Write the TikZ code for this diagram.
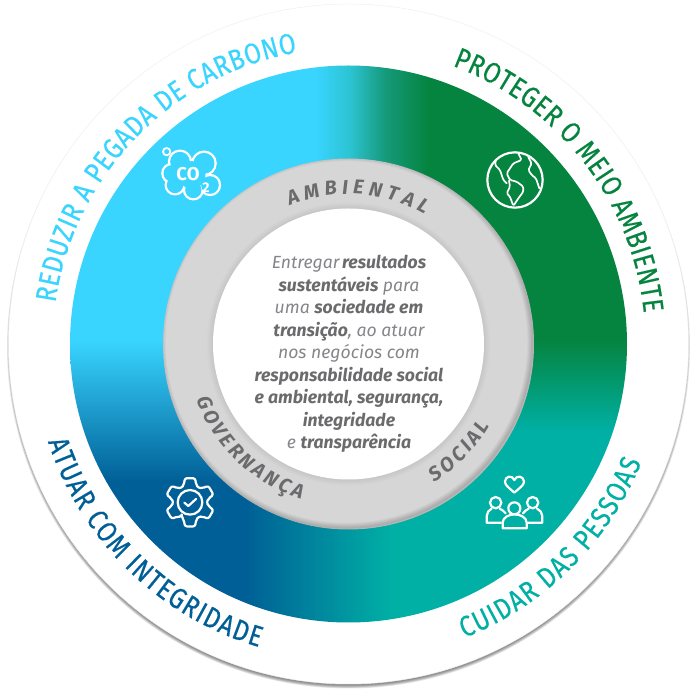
\documentclass[tikz,border=0pt]{standalone}
\usepackage{fontspec}
\usetikzlibrary{decorations.text,calc}
\setmainfont{Fira Sans}
\newfontfamily\ringfont[FakeStretch=0.84,FakeBold=0.4]{Fira Sans}
\newfontfamily\greyfont{Fira Sans}
\definecolor{LB}{HTML}{39D5FF}
\definecolor{GR}{HTML}{05843F}
\definecolor{TE}{HTML}{00B0A5}
\definecolor{DB}{HTML}{005F96}
\definecolor{MI}{HTML}{2CC3D2}
\definecolor{MJ}{HTML}{159A7A}
\definecolor{GT}{HTML}{6B6B6D}
\definecolor{GL}{HTML}{85858A}
\tikzset{
  icon/.style={draw=white,line width=2.2pt,line join=round,line cap=round},
  ringtext/.style={decorate,decoration={text along path,text align={fit to path},text={#1}}},
  flip/.style={shift={(0,697)},y=-1pt},
  zoomed/.style 2 args={shift={(#1,697-#2)},x=0.33333pt,y=-0.33333pt}
}
\newcommand{\ringsize}{\ringfont\fontsize{29}{29}\selectfont}
\newcommand{\greysize}{\greyfont\bfseries\itshape\fontsize{20}{20}\selectfont\color{GT}}
\newcommand{\lighttx}[1]{{\color{GL}#1}}
\newcommand{\boldtx}[1]{{\bfseries\color{GT}#1}}
\begin{document}
\begin{tikzpicture}[x=1pt,y=1pt]
\useasboundingbox (0,0) rectangle (697,697);
\fill[white] (0,0) rectangle (697,697);
\coordinate (c) at (348.5,353);
% outer disk with soft shadow
\foreach \i in {0,...,5}{
  \fill[black,opacity=0.085] ($(c)+(0,-3)$) circle[radius=338.5+\i*0.6];
}
\fill[white] (c) circle[radius=340];
\draw[black!6,line width=0.5pt] (c) circle[radius=340];
% gradient ring
\begin{scope}
\clip (c) circle[radius=278.5];
\begin{scope}[flip]
  % top band
  \fill[LB] (60,50) rectangle (315,341);
  \shade[left color=LB,right color=MI] (315,50) rectangle (350,341);
  \shade[left color=MI,right color=MJ] (350,50) rectangle (385,341);
  \shade[left color=MJ,right color=GR] (385,50) rectangle (428,341);
  \fill[GR] (428,50) rectangle (640,341);
  % sides
  \shade[top color=LB,bottom color=DB] (60,340) rectangle (349,482);
  \shade[top color=GR,bottom color=TE] (348,340) rectangle (640,432);
  % bottom band
  \fill[DB] (60,481) rectangle (245,630);
  \shade[left color=DB,right color=TE] (245,481) rectangle (392,630);
  \shade[left color=DB!42!TE,right color=TE] (348,431) rectangle (392,482);
  \fill[TE] (392,431) rectangle (640,630);
\end{scope}
\end{scope}
% grey ring with inner shadow
\fill[black!16] (c) circle[radius=185.5];
\begin{scope}
\clip (c) circle[radius=185.5];
\foreach \i in {1,...,8}{
  \draw[black,opacity=0.025,line width=\i*1.3pt] ($(c)+(-2,2)$) circle[radius=186];
}
\foreach \i in {1,...,5}{
  \fill[black,opacity=0.012] (c) circle[radius=135.5+\i*1.2];
}
\end{scope}
\fill[white] (c) circle[radius=135.5];
% ring labels
\path[ringtext={|\ringsize\color{LB}|REDUZIR A PEGADA DE CARBONO}] ([shift={(172:296)}]c) arc[start angle=172,end angle=100,radius=296];
\path[ringtext={|\ringsize\color{GR}|PROTEGER O MEIO AMBIENTE}] ([shift={(69.5:297)}]c) arc[start angle=69.5,end angle=6,radius=297];
\path[ringtext={|\ringsize\color{TE}|CUIDAR DAS PESSOAS}] ([shift={(-68.5:316)}]c) arc[start angle=-68.5,end angle=-22,radius=316];
\path[ringtext={|\ringsize\color{DB}|ATUAR COM INTEGRIDADE}] ([shift={(198:316)}]c) arc[start angle=198,end angle=253.5,radius=316];
% grey labels
\path[ringtext={|\greysize|AMBIENTAL}] ([shift={(113:150)}]c) arc[start angle=113,end angle=59.5,radius=150];
\path[ringtext={|\greysize|SOCIAL}] ([shift={(-58:163)}]c) arc[start angle=-58,end angle=-30,radius=163];
\path[ringtext={|\greysize|GOVERNANÇA}] ([shift={(200:162)}]c) arc[start angle=200,end angle=253,radius=162];
% centre text
\node[align=center,font=\itshape\fontsize{17.6}{22.5}\selectfont,inner sep=0pt] (txt) at (349,343) {%
\spaceskip=0.14em
\lighttx{Entregar} \boldtx{resultados}\\
\boldtx{sustentáveis} \lighttx{para}\\
\lighttx{uma} \boldtx{sociedade em}\\
\boldtx{transição}\lighttx{, ao atuar}\\
\lighttx{nos negócios com}\\
\boldtx{responsabilidade social}\\
\boldtx{e ambiental, segurança,}\\
\boldtx{integridade}\\
\lighttx{e} \boldtx{transparência}};
% CO2 icon
\begin{scope}[zoomed={130}{120}]
  \foreach \x/\y/\r in {150/125/33,222/130/35,125/160/28,240/195/30,190/210/28,135/195/28,185/165/45}{
    \fill[white] (\x,\y) circle[radius=\r+3.5];
  }
  \foreach \x/\y/\r in {150/125/33,222/130/35,125/160/28,240/195/30,190/210/28,135/195/28,185/165/45}{
    \fill[LB] (\x,\y) circle[radius=\r-3.5];
  }
  \draw[icon,line width=1.8pt] (110,95) circle[radius=11];
  \node[white,font=\bfseries\fontsize{18.5}{18.5}\selectfont,inner sep=0pt] (co) at (174,163) {CO};
  \node[white,font=\bfseries\fontsize{14}{14}\selectfont,inner sep=0pt] (two) at (228,204) {2};
\end{scope}
% globe icon
\begin{scope}[zoomed={460}{130}]
  \draw[icon] (165,150) circle[radius=83];
  \draw[icon,line width=1.7pt,rounded corners=1.5pt] (175,70)--(185,90)--(160,100)--(150,115)--(140,130)--(150,150)--(170,155)--(190,170)--(190,185)--(175,205)--(160,228)--(150,200)--(140,190)--(150,170)--(147,152);
  \draw[icon,line width=1.7pt,rounded corners=1.5pt] (108,88)--(105,105)--(120,120)--(130,150)--(140,160);
  \draw[icon,line width=1.7pt,rounded corners=1.5pt] (205,82)--(215,100)--(205,120)--(215,135)--(228,145)--(238,175);
\end{scope}
% gear icon
\begin{scope}[zoomed={140}{450}]
  \begin{scope}[shift={(150,157)}]
    \draw[icon,rounded corners=2.2pt]
      (120:50) \foreach \a in {90,30,-30,-90,-150,-210}{
        -- (\a+19:56) -- (\a+12:74) -- (\a-12:74) -- (\a-19:56) -- (\a-30:50)
      } -- cycle;
    \draw[icon] (0,0) circle[radius=37];
    \draw[icon] (-17,1) -- (-5,11) -- (18,-10);
  \end{scope}
\end{scope}
% people icon
\begin{scope}[zoomed={465}{450}]
  \draw[icon] (148,128) .. controls (130,112) and (120,105) .. (120,95) .. controls (120,78) and (142,74) .. (148,90) .. controls (154,74) and (177,78) .. (177,95) .. controls (177,105) and (166,112) .. (148,128) -- cycle;
  \draw[icon] (92,158) circle[radius=17];
  \draw[icon] (148,175) circle[radius=18];
  \draw[icon] (203,158) circle[radius=17];
  \draw[icon] (113,235) -- (185,235) -- (185,218) .. controls (185,202) and (165,193) .. (149,193) .. controls (133,193) and (113,202) .. (113,218) -- cycle;
  \draw[icon] (108,218) -- (65,218) -- (65,198) .. controls (65,188) and (72,180) .. (80,176);
  \draw[icon] (104,176) .. controls (112,180) and (118,184) .. (122,190);
  \draw[icon] (190,218) -- (232,218) -- (232,198) .. controls (232,188) and (225,180) .. (216,176);
  \draw[icon] (191,176) .. controls (184,180) and (178,184) .. (174,190);
\end{scope}
\end{tikzpicture}
\end{document}
